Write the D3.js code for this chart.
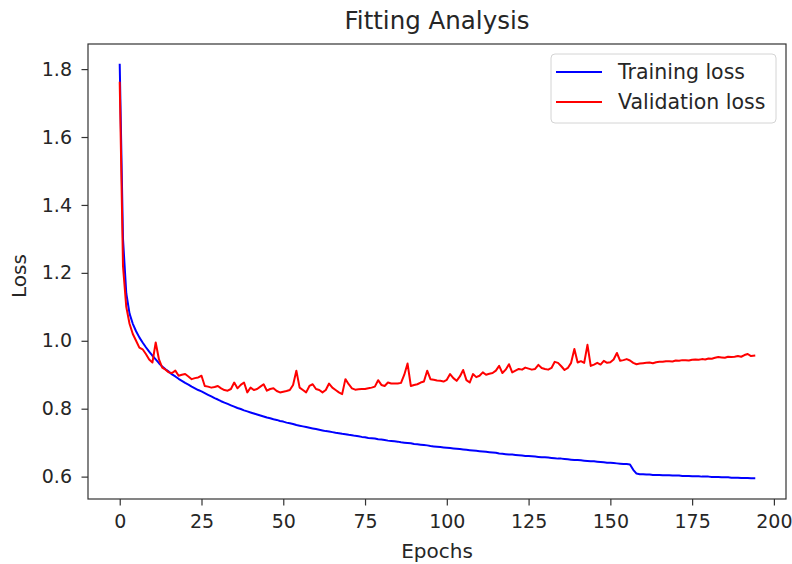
<!DOCTYPE html>
<html>
<head>
<meta charset="utf-8">
<script src="https://cdn.jsdelivr.net/npm/d3@7"></script>
<style>
  html, body { margin: 0; padding: 0; background: #fff; }
  svg { display: block; font-family: "DejaVu Sans", sans-serif; }
</style>
</head>
<body>
<svg id="chart" width="792" height="564"></svg>
<script>
// Loss per epoch (epochs 0..194)
const trainingLoss = [
  1.813, 1.300, 1.140, 1.080, 1.050, 1.028, 1.010, 0.995, 0.981, 0.968,
  0.956, 0.945, 0.934, 0.924, 0.916, 0.909, 0.901, 0.895, 0.888, 0.882,
  0.876, 0.871, 0.865, 0.860, 0.855, 0.851, 0.846, 0.841, 0.836, 0.831,
  0.827, 0.822, 0.818, 0.814, 0.810, 0.806, 0.802, 0.799, 0.795, 0.792,
  0.789, 0.786, 0.783, 0.780, 0.777, 0.774, 0.772, 0.769, 0.767, 0.764,
  0.762, 0.759, 0.757, 0.755, 0.752, 0.750, 0.748, 0.746, 0.744, 0.742,
  0.740, 0.738, 0.736, 0.734, 0.733, 0.731, 0.729, 0.728, 0.726, 0.725,
  0.723, 0.722, 0.720, 0.719, 0.717, 0.716, 0.714, 0.713, 0.712, 0.710,
  0.709, 0.708, 0.706, 0.705, 0.704, 0.703, 0.701, 0.700, 0.699, 0.698,
  0.696, 0.695, 0.694, 0.693, 0.692, 0.690, 0.689, 0.688, 0.687, 0.686,
  0.685, 0.684, 0.683, 0.682, 0.681, 0.680, 0.679, 0.678, 0.677, 0.676,
  0.675, 0.674, 0.673, 0.672, 0.671, 0.670, 0.668, 0.667, 0.666, 0.665,
  0.665, 0.664, 0.663, 0.662, 0.661, 0.661, 0.660, 0.659, 0.658, 0.657,
  0.657, 0.656, 0.655, 0.654, 0.653, 0.653, 0.652, 0.651, 0.650, 0.649,
  0.649, 0.648, 0.647, 0.646, 0.645, 0.645, 0.644, 0.643, 0.642, 0.641,
  0.641, 0.640, 0.639, 0.638, 0.637, 0.637, 0.636, 0.620, 0.609, 0.607,
  0.607, 0.606, 0.606, 0.605, 0.605, 0.605, 0.604, 0.604, 0.604, 0.603,
  0.603, 0.603, 0.602, 0.602, 0.602, 0.601, 0.601, 0.601, 0.600, 0.600,
  0.600, 0.599, 0.599, 0.599, 0.598, 0.598, 0.598, 0.597, 0.597, 0.597,
  0.596, 0.596, 0.596, 0.595, 0.595
];

const validationLoss = [
  1.760, 1.220, 1.100, 1.050, 1.020, 1.000, 0.980, 0.975, 0.961, 0.945,
  0.936, 0.995, 0.945, 0.921, 0.915, 0.907, 0.905, 0.912, 0.897, 0.900,
  0.902, 0.895, 0.887, 0.890, 0.892, 0.897, 0.867, 0.865, 0.862, 0.864,
  0.867, 0.860, 0.855, 0.853, 0.858, 0.877, 0.860, 0.870, 0.877, 0.848,
  0.862, 0.855, 0.858, 0.865, 0.872, 0.853, 0.858, 0.860, 0.852, 0.848,
  0.850, 0.852, 0.855, 0.870, 0.912, 0.862, 0.855, 0.848, 0.867, 0.872,
  0.858, 0.855, 0.848, 0.855, 0.874, 0.862, 0.855, 0.848, 0.843, 0.887,
  0.872, 0.860, 0.856, 0.857, 0.858, 0.858, 0.860, 0.862, 0.865, 0.884,
  0.870, 0.867, 0.877, 0.874, 0.874, 0.874, 0.876, 0.900, 0.933, 0.867,
  0.870, 0.872, 0.877, 0.880, 0.912, 0.887, 0.885, 0.883, 0.882, 0.880,
  0.885, 0.902, 0.890, 0.882, 0.895, 0.914, 0.884, 0.877, 0.902, 0.893,
  0.897, 0.907, 0.900, 0.903, 0.905, 0.912, 0.926, 0.905, 0.915, 0.931,
  0.907, 0.912, 0.917, 0.915, 0.921, 0.918, 0.915, 0.917, 0.929, 0.920,
  0.917, 0.915, 0.920, 0.938, 0.935, 0.925, 0.914, 0.920, 0.935, 0.976,
  0.936, 0.940, 0.935, 0.988, 0.926, 0.930, 0.935, 0.930, 0.941, 0.935,
  0.937, 0.945, 0.964, 0.941, 0.943, 0.946, 0.942, 0.935, 0.931, 0.933,
  0.934, 0.935, 0.936, 0.934, 0.937, 0.938, 0.938, 0.940, 0.940, 0.939,
  0.942, 0.941, 0.943, 0.943, 0.942, 0.944, 0.945, 0.944, 0.946, 0.945,
  0.948, 0.947, 0.950, 0.952, 0.951, 0.950, 0.953, 0.952, 0.953, 0.955,
  0.953, 0.958, 0.961, 0.955, 0.956
];

const xTickValues = [0, 25, 50, 75, 100, 125, 150, 175, 200];
const yTickValues = [0.6, 0.8, 1.0, 1.2, 1.4, 1.6, 1.8];
const seriesNames = ["Training loss", "Validation loss"];
const seriesColors = ["#0000ff", "#ff0000"];
const titleText = "Fitting Analysis";
const xLabelText = "Epochs";
const yLabelText = "Loss";

const svg = d3.select("#chart");
const plot = { left: 88, right: 786, top: 44, bottom: 499 };
const textColor = "#262626";

const epochs = trainingLoss.map((_, i) => i);

// Autoscaled limits with a 5% margin on each side
function padded(lo, hi) {
  const m = (hi - lo) * 0.05;
  return [lo - m, hi + m];
}
const allLoss = trainingLoss.concat(validationLoss);
const x = d3.scaleLinear()
  .domain(padded(d3.min(epochs), d3.max(epochs)))
  .range([plot.left, plot.right]);
const y = d3.scaleLinear()
  .domain(padded(d3.min(allLoss), d3.max(allLoss)))
  .range([plot.bottom, plot.top]);

// Curves
const clipId = "plot-clip";
svg.append("clipPath").attr("id", clipId)
  .append("rect")
  .attr("x", plot.left).attr("y", plot.top)
  .attr("width", plot.right - plot.left).attr("height", plot.bottom - plot.top);

const line = d3.line()
  .x((d, i) => x(epochs[i]))
  .y(d => y(d));

const curves = svg.append("g").attr("clip-path", `url(#${clipId})`);
[trainingLoss, validationLoss].forEach((values, k) => {
  curves.append("path")
    .datum(values)
    .attr("fill", "none")
    .attr("stroke", seriesColors[k])
    .attr("stroke-width", 2)
    .attr("stroke-linejoin", "round")
    .attr("stroke-linecap", "square")
    .attr("d", line);
});

// Axes
const xAxis = svg.append("g")
  .attr("transform", `translate(0,${plot.bottom})`)
  .call(d3.axisBottom(x).tickValues(xTickValues).tickFormat(d3.format("d"))
    .tickSize(6.5).tickSizeOuter(0).tickPadding(9.5));
const yAxis = svg.append("g")
  .attr("transform", `translate(${plot.left},0)`)
  .call(d3.axisLeft(y).tickValues(yTickValues).tickFormat(d3.format(".1f"))
    .tickSize(6.5).tickSizeOuter(0).tickPadding(9.5));

[xAxis, yAxis].forEach(g => {
  g.select(".domain").remove();
  g.selectAll(".tick line").attr("stroke", "#333").attr("stroke-width", 1.2);
  g.selectAll(".tick text")
    .attr("fill", textColor)
    .style("font-size", "19px")
    .style("font-family", "'DejaVu Sans', sans-serif");
});

// Frame
svg.append("rect")
  .attr("x", plot.left).attr("y", plot.top)
  .attr("width", plot.right - plot.left).attr("height", plot.bottom - plot.top)
  .attr("fill", "none").attr("stroke", "#333").attr("stroke-width", 1.2);

// Title and axis labels
svg.append("text")
  .attr("x", (plot.left + plot.right) / 2).attr("y", 29)
  .attr("text-anchor", "middle")
  .attr("fill", textColor)
  .style("font-size", "24.5px")
  .text(titleText);

svg.append("text")
  .attr("x", (plot.left + plot.right) / 2).attr("y", 558)
  .attr("text-anchor", "middle")
  .attr("fill", textColor)
  .style("font-size", "20px")
  .text(xLabelText);

svg.append("text")
  .attr("transform", `translate(26,276) rotate(-90)`)
  .attr("text-anchor", "middle")
  .attr("fill", textColor)
  .style("font-size", "20px")
  .text(yLabelText);

// Legend
const legend = svg.append("g");
legend.append("rect")
  .attr("x", 551).attr("y", 54).attr("width", 225).attr("height", 69)
  .attr("rx", 4).attr("ry", 4)
  .attr("fill", "#fff").attr("fill-opacity", 0.8)
  .attr("stroke", "#d4d4d4").attr("stroke-width", 1);

seriesNames.forEach((name, k) => {
  const cy = 72 + k * 30;
  legend.append("line")
    .attr("x1", 556).attr("x2", 602).attr("y1", cy).attr("y2", cy)
    .attr("stroke", seriesColors[k]).attr("stroke-width", 2);
  legend.append("text")
    .attr("x", 618).attr("y", cy).attr("dy", "0.35em")
    .attr("fill", textColor)
    .style("font-size", "20.5px")
    .text(name);
});
</script>
</body>
</html>
